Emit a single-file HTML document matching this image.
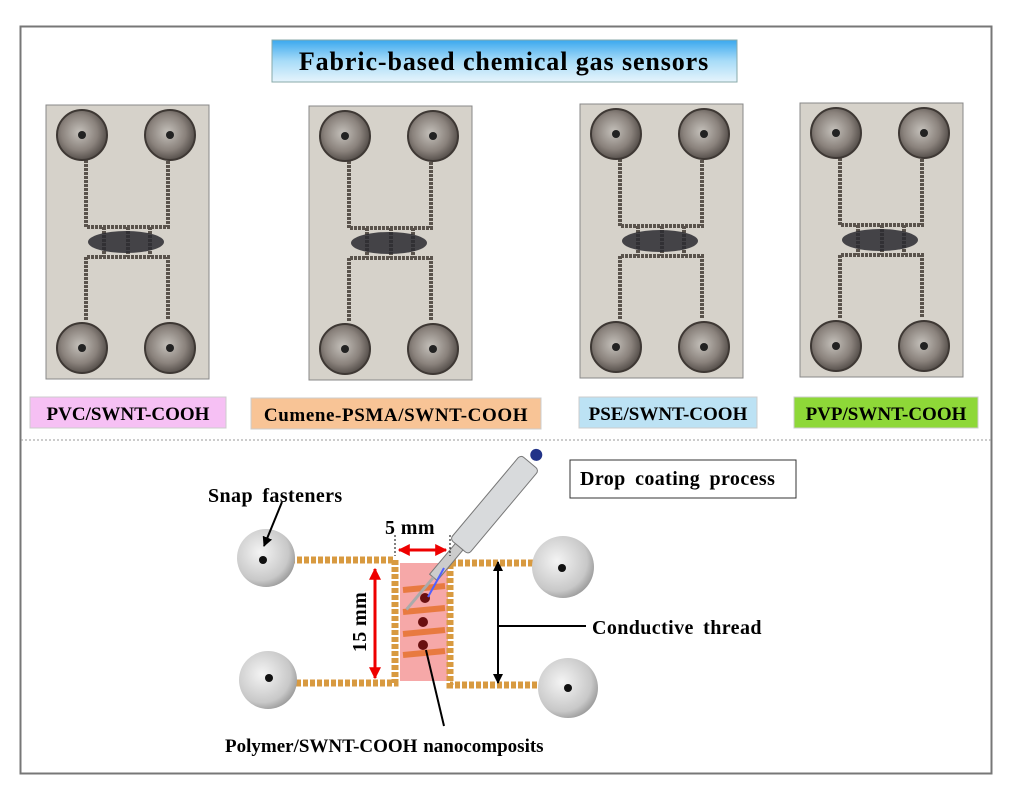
<!DOCTYPE html>
<html><head><meta charset="utf-8"><style>
html,body{margin:0;padding:0;background:#fff;}
svg{display:block;font-family:"Liberation Serif",serif;font-weight:bold;}
</style></head><body>
<svg width="1024" height="798" viewBox="0 0 1024 798" xmlns="http://www.w3.org/2000/svg">
<defs>
<linearGradient id="tg" x1="0" y1="0" x2="0" y2="1"><stop offset="0" stop-color="#3aa8ee"/><stop offset="0.5" stop-color="#a8dcf8"/><stop offset="1" stop-color="#e6f4fc"/></linearGradient>
<radialGradient id="sn" cx="0.4" cy="0.4" r="0.7"><stop offset="0" stop-color="#f4f4f4"/><stop offset="0.7" stop-color="#c8c8c8"/><stop offset="1" stop-color="#8a8a8a"/></radialGradient>
<radialGradient id="ps" cx="0.45" cy="0.45" r="0.6"><stop offset="0" stop-color="#c4c0ba"/><stop offset="0.6" stop-color="#8a827c"/><stop offset="1" stop-color="#4a4440"/></radialGradient>
<marker id="ar" viewBox="0 0 10 10" refX="9" refY="5" markerWidth="4" markerHeight="4" orient="auto-start-reverse"><path d="M0,0 L10,5 L0,10z" fill="#e00"/></marker>
<marker id="ak" viewBox="0 0 10 10" refX="9" refY="5" markerWidth="5" markerHeight="5" orient="auto-start-reverse"><path d="M0,0 L10,5 L0,10z" fill="#000"/></marker>
<g id="ph">
<rect x="0" y="0" width="163" height="274" fill="#d6d2ca" stroke="#888" stroke-width="1"/>
<g fill="none" stroke="#5a534c" stroke-width="4" stroke-dasharray="3 1">
<path d="M40,55 V122 H122 V55"/><path d="M40,215 V152 H122 V215"/>
<path d="M58,122 V152 M82,122 V152 M104,122 V152"/>
</g>
<ellipse cx="80" cy="137" rx="38" ry="11" fill="#2a2a30" opacity="0.85"/>
<circle cx="36" cy="30" r="25" fill="url(#ps)" stroke="#3e3834" stroke-width="2"/>
<circle cx="124" cy="30" r="25" fill="url(#ps)" stroke="#3e3834" stroke-width="2"/>
<circle cx="36" cy="243" r="25" fill="url(#ps)" stroke="#3e3834" stroke-width="2"/>
<circle cx="124" cy="243" r="25" fill="url(#ps)" stroke="#3e3834" stroke-width="2"/>
<g fill="#222"><circle cx="36" cy="30" r="4"/><circle cx="124" cy="30" r="4"/><circle cx="36" cy="243" r="4"/><circle cx="124" cy="243" r="4"/></g>
</g>
</defs>
<rect x="20.5" y="26.5" width="971" height="747" fill="#fff" stroke="#777" stroke-width="2"/>
<rect x="272" y="40" width="465" height="42" fill="url(#tg)" stroke="#8aa" stroke-width="1"/>
<text x="504" y="70" text-anchor="middle" font-size="26" letter-spacing="0.9">Fabric-based chemical gas sensors</text>
<use href="#ph" x="46" y="105"/>
<use href="#ph" x="309" y="106"/>
<use href="#ph" x="580" y="104"/>
<use href="#ph" x="800" y="103"/>
<g font-size="19" text-anchor="middle">
<rect x="30" y="397" width="196" height="31" fill="#f6c0f4" stroke="#ccc"/><text x="128" y="420">PVC/SWNT-COOH</text>
<rect x="251" y="398" width="290" height="31" fill="#f8c496" stroke="#ccc"/><text x="396" y="421" letter-spacing="0.6">Cumene-PSMA/SWNT-COOH</text>
<rect x="579" y="397" width="178" height="31" fill="#bce2f4" stroke="#ccc"/><text x="668" y="420">PSE/SWNT-COOH</text>
<rect x="794" y="397" width="184" height="31" fill="#8ed838" stroke="#ccc"/><text x="886" y="420">PVP/SWNT-COOH</text>
</g>
<line x1="21" y1="440" x2="991" y2="440" stroke="#999" stroke-dasharray="2 2"/>
<rect x="400" y="563" width="48" height="118" fill="#f6a8a8"/>
<g stroke="#d89a40" stroke-width="7" fill="none" stroke-dasharray="5 2">
<path d="M290,560 H395 V683 H290"/><path d="M540,563 H450 V685 H540"/>
</g>
<g stroke="#e87a40" stroke-width="6"><line x1="403" y1="590" x2="445" y2="586"/><line x1="403" y1="612" x2="445" y2="608"/><line x1="403" y1="634" x2="445" y2="630"/><line x1="403" y1="655" x2="445" y2="651"/></g>
<g fill="#6a1010"><circle cx="425" cy="598" r="5"/><circle cx="423" cy="622" r="5"/><circle cx="423" cy="645" r="5"/></g>
<circle cx="266" cy="558" r="29" fill="url(#sn)"/><circle cx="268" cy="680" r="29" fill="url(#sn)"/>
<circle cx="563" cy="567" r="31" fill="url(#sn)"/><circle cx="568" cy="688" r="30" fill="url(#sn)"/>
<g fill="#111"><circle cx="263" cy="560" r="4"/><circle cx="269" cy="678" r="4"/><circle cx="562" cy="568" r="4"/><circle cx="568" cy="688" r="4"/></g>
<g transform="rotate(40 490 510)"><rect x="478" y="448" width="24" height="110" rx="4" fill="#d8dadc" stroke="#777"/><rect x="485" y="558" width="10" height="40" fill="#ccc" stroke="#777"/><line x1="490" y1="598" x2="490" y2="640" stroke="#aaa" stroke-width="3"/><circle cx="490" cy="438" r="6" fill="#223388"/></g>
<line x1="444" y1="568" x2="428" y2="597" stroke="#5060ff" stroke-width="2"/>
<rect x="570" y="460" width="226" height="38" fill="#fff" stroke="#333"/>
<g font-size="20" letter-spacing="0.4" word-spacing="4">
<text x="580" y="485">Drop coating process</text>
<text x="208" y="502">Snap fasteners</text>
<text x="385" y="534" word-spacing="0">5 mm</text>
<text x="592" y="634">Conductive thread</text>
<text x="225" y="752" font-size="19" word-spacing="1" letter-spacing="0">Polymer/SWNT-COOH  nanocomposits</text>
<text transform="translate(366 622) rotate(-90)" text-anchor="middle" word-spacing="0">15 mm</text>
</g>
<line x1="282" y1="502" x2="264" y2="546" stroke="#000" stroke-width="2" marker-end="url(#ak)"/>
<g stroke="#000" stroke-dasharray="2 2"><line x1="395" y1="535" x2="395" y2="556"/><line x1="450" y1="535" x2="450" y2="556"/></g>
<line x1="399" y1="550" x2="446" y2="550" stroke="#e00" stroke-width="3" marker-start="url(#ar)" marker-end="url(#ar)"/>
<line x1="375" y1="569" x2="375" y2="678" stroke="#e00" stroke-width="3" marker-start="url(#ar)" marker-end="url(#ar)"/>
<line x1="498" y1="562" x2="498" y2="683" stroke="#000" stroke-width="2" marker-start="url(#ak)" marker-end="url(#ak)"/>
<line x1="498" y1="626" x2="586" y2="626" stroke="#000" stroke-width="2"/>
<line x1="426" y1="650" x2="444" y2="726" stroke="#000" stroke-width="2"/>
</svg>
</body></html>
